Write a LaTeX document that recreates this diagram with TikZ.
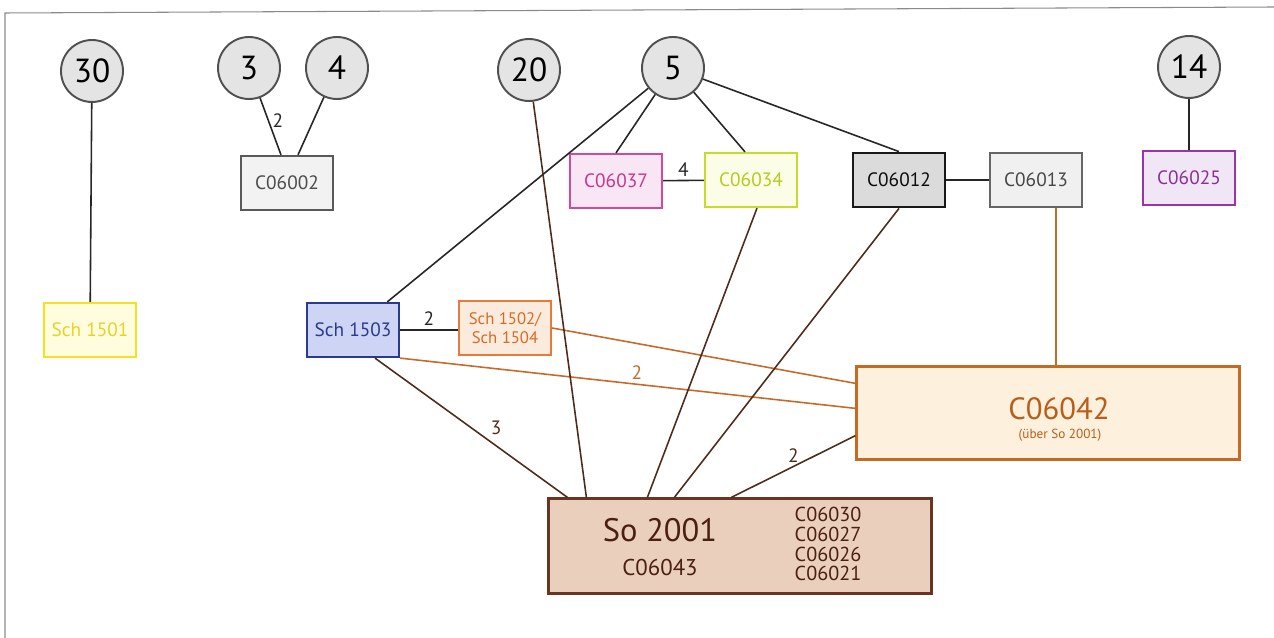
\documentclass[tikz,border=0pt]{standalone}
\usepackage{fontspec}
\setmainfont{PT Sans}
\usetikzlibrary{calc}

\definecolor{circfill}{HTML}{E4E4E4}
\definecolor{circline}{HTML}{505050}
\definecolor{frameline}{HTML}{8A8A8A}
\definecolor{sobrown}{HTML}{4E2C1C}
\definecolor{orline}{HTML}{C66A2A}

\tikzset{
  num/.style={circle,draw=circline,fill=circfill,line width=1.1pt,minimum size=1.24cm,inner sep=0pt,font=\fontsize{19}{22}\selectfont},
  box/.style={rectangle,line width=1.3pt,minimum width=1.84cm,minimum height=1.08cm,inner sep=0pt,font=\fontsize{11}{13}\selectfont},
  link/.style={line width=0.9pt,black!85},
  solink/.style={line width=0.9pt,sobrown},
  orlink/.style={line width=0.9pt,orline},
  lbl/.style={font=\fontsize{11}{13}\selectfont,inner sep=2pt}
}

\begin{document}
\begin{tikzpicture}[x=0.02cm,y=-0.02cm]
\useasboundingbox (0,0) rectangle (1274,638);
\draw[frameline,line width=0.6pt] (5,638) -- (5,13) -- (1274,7);

% numbered circles
\node[num] (c30) at (92,71) {30};
\node[num] (c3) at (249,68) {3};
\node[num] (c4) at (337,68) {4};
\node[num] (c20) at (529,70) {20};
\node[num] (c5) at (673,68) {5};
\node[num] (c14) at (1189,67) {14};

% boxes
\node[box,draw=black!65,fill=black!5,text=black!70] (c02) at (287,183) {C06002};
\node[box,draw={rgb,255:red,245;green,225;blue,30},fill={rgb,255:red,255;green,253;blue,222},text={rgb,255:red,232;green,210;blue,40}] (s1501) at (90,330) {Sch 1501};
\node[box,draw={rgb,255:red,212;green,72;blue,154},fill={rgb,255:red,248;green,230;blue,244},text={rgb,255:red,200;green,55;blue,138}] (c37) at (616,181) {C06037};
\node[box,draw={rgb,255:red,198;green,220;blue,44},fill={rgb,255:red,251;green,253;blue,230},text={rgb,255:red,181;green,203;blue,28}] (c34) at (751,180) {C06034};
\node[box,draw=black!90,fill=black!14,text=black!95,line width=1.6pt] (c12) at (899,180) {C06012};
\node[box,draw=black!60,fill=black!6,text=black!72] (c13) at (1036,180) {C06013};
\node[box,draw={rgb,255:red,154;green,53;blue,168},fill={rgb,255:red,241;green,230;blue,246},text={rgb,255:red,138;green,47;blue,154}] (c25) at (1189,178) {C06025};
\node[box,draw={rgb,255:red,43;green,57;blue,144},fill={rgb,255:red,205;green,212;blue,244},text={rgb,255:red,43;green,57;blue,144}] (s1503) at (353,330) {Sch 1503};
\node[box,draw={rgb,255:red,229;green,122;blue,58},fill={rgb,255:red,251;green,235;blue,221},text={rgb,255:red,216;green,106;blue,37},align=center,font=\fontsize{9.5}{10.8}\selectfont] (s1502) at (505,328) {Sch 1502/\\Sch 1504};

\node[box,draw={rgb,255:red,196;green,106;blue,34},fill={rgb,255:red,253;green,240;blue,220},minimum width=7.66cm,minimum height=1.86cm] (c42) at (1048,413) {};
\node[text={rgb,255:red,185;green,94;blue,26},font=\fontsize{17.5}{19}\selectfont,inner sep=0pt] (c42t) at (1059,409) {C06042};
\node[text={rgb,255:red,185;green,94;blue,26},font=\fontsize{7.5}{9}\selectfont,inner sep=0pt] (c42s) at (1060,435) {(über So 2001)};

\node[box,draw={rgb,255:red,106;green,53;blue,32},fill={rgb,255:red,235;green,207;blue,189},minimum width=7.66cm,minimum height=1.9cm] (so) at (740,546) {};
\node[text={rgb,255:red,74;green,32;blue,16},font=\fontsize{18.5}{20}\selectfont,inner sep=0pt] (sot) at (660,530) {So 2001};
\node[text={rgb,255:red,74;green,32;blue,16},font=\fontsize{13}{15}\selectfont,inner sep=0pt] (so43) at (660,568) {C06043};
\node[text={rgb,255:red,74;green,32;blue,16},font=\fontsize{11.5}{11.3}\selectfont,inner sep=0pt,align=center] (solist) at (828,544) {C06030\\C06027\\C06026\\C06021};

% connectors
\draw[link] (c30) -- (s1501);
\draw[link] (c3) -- ($(c02.north)+(-6,0)$) node[lbl,pos=0.4,right] {2};
\draw[link] (c4) -- ($(c02.north)+(11,0)$);
\draw[link] (c5) -- (c37.north);
\draw[link] (c5) -- ($(c34.north)+(-6,0)$);
\draw[link] (c5) -- (c12.north);
\draw[link] (c5) -- (s1503);
\draw[link] (c37) -- (c34) node[lbl,midway,above] {4};
\draw[link] (c12) -- (c13);
\draw[link] (c14) -- (c25);
\draw[link] (s1503.east) -- (s1503.east -| s1502.west) node[lbl,midway,above] {2};

\coordinate (c13a) at ($(c13.south)+(20,0)$);
\draw[orlink] (c13a) -- (c13a |- c42.north);
\draw[orlink] (s1502.east) -- ($(c42.north west)+(0,18)$);
\draw[orlink] (s1503.south east) -- ($(c42.north west)+(0,43)$) node[lbl,pos=0.52,above] {2};

\draw[solink] ($(s1503.south)+(22,0)$) -- ($(so.north west)+(20,0)$) node[lbl,pos=0.58,above right] {3};
\draw[solink] (c20) -- ($(so.north west)+(39,0)$);
\draw[solink] ($(c34.south)+(6,0)$) -- ($(so.north west)+(100,0)$);
\draw[solink] (c12.south) -- ($(so.north west)+(127,0)$);
\draw[solink] ($(c42.south west)+(0,-25)$) -- ($(so.north west)+(184,0)$) node[lbl,pos=0.5,above] {2};
\end{tikzpicture}
\end{document}
